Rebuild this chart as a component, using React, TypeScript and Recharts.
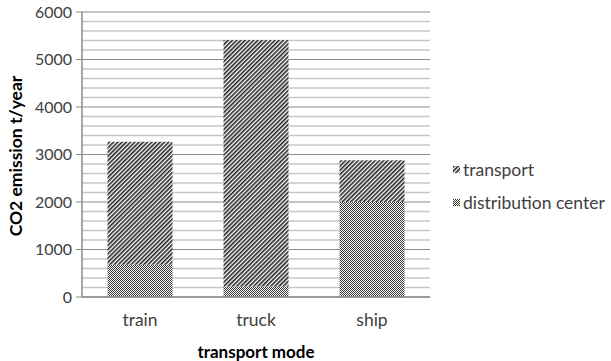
import React from 'react';
import { BarChart, Bar, XAxis, YAxis, CartesianGrid } from 'recharts';

const modes = ['train', 'truck', 'ship'];
const distributionCenter = [680, 220, 2000];
const transport = [2590, 5190, 880];
const yTicks = [0, 1000, 2000, 3000, 4000, 5000, 6000];
const minorTicks = [200, 400, 600, 800, 1200, 1400, 1600, 1800, 2200, 2400, 2600, 2800, 3200, 3400, 3600, 3800, 4200, 4400, 4600, 4800, 5200, 5400, 5600, 5800];

const data = modes.map((m, i) => ({
  mode: m,
  dc: distributionCenter[i],
  transport: transport[i],
}));

const FONT = 'Lato, "Open Sans", sans-serif';
const TEXT = '#404040';

const legendItems = [
  { label: 'transport', fill: 'url(#hatch)' },
  { label: 'distribution center', fill: 'url(#checker)' },
];

function LegendBox() {
  return (
    <div style={{ position: 'absolute', left: 453, top: 153, fontFamily: FONT, fontSize: 17.5, color: TEXT }}>
      {legendItems.map((it) => (
        <div key={it.label} style={{ display: 'flex', alignItems: 'center', height: 33 }}>
          <svg width={7} height={7} style={{ marginRight: 3 }}>
            <rect x={0} y={0} width={7} height={7} fill={it.fill} />
          </svg>
          <span>{it.label}</span>
        </div>
      ))}
    </div>
  );
}

// rotated y axis title, placed by hand in the left gutter
function YTitle() {
  return (
    <text
      x={15}
      y={156}
      transform="rotate(-90 15 156)"
      textAnchor="middle"
      dominantBaseline="central"
      fontSize={17.5}
      fontWeight="bold"
      fill="#000"
      fontFamily={FONT}
    >
      CO2 emission t/year
    </text>
  );
}

export default function App() {
  return (
    <div style={{ position: 'absolute', left: 0, top: 0, width: 611, height: 361, background: '#fff' }}>
      <BarChart
        width={611}
        height={361}
        data={data}
        barCategoryGap="22%"
        margin={{ top: 12, right: 181, left: 0, bottom: 0 }}
      >
        <defs>
          <pattern id="hatch" patternUnits="userSpaceOnUse" width={3} height={3} patternTransform="rotate(45)">
            <rect x={0} y={0} width={3} height={3} fill="#fff" />
            <rect x={0} y={0} width={1.6} height={3} fill="#222" />
          </pattern>
          <pattern id="checker" patternUnits="userSpaceOnUse" width={2} height={2}>
            <rect x={0} y={0} width={2} height={2} fill="#fff" />
            <rect x={0} y={0} width={1} height={1} fill="#333" />
            <rect x={1} y={1} width={1} height={1} fill="#333" />
          </pattern>
        </defs>
        <CartesianGrid vertical={false} horizontalValues={minorTicks} stroke="#c6c6c6" strokeWidth={1.5} />
        <CartesianGrid vertical={false} horizontalValues={yTicks} stroke="#8c8c8c" strokeWidth={1.2} />
        <XAxis
          dataKey="mode"
          height={64}
          tickLine={false}
          axisLine={{ stroke: '#8c8c8c', strokeWidth: 1.5 }}
          tick={{ fontSize: 17.5, fill: TEXT, fontFamily: FONT }}
          tickMargin={11}
          label={{ value: 'transport mode', position: 'insideBottom', offset: 3, fontSize: 17, fontWeight: 'bold', fill: '#000', fontFamily: FONT }}
        />
        <YAxis
          width={82}
          domain={[0, 6000]}
          ticks={yTicks}
          interval={0}
          tickSize={6}
          tickLine={{ stroke: '#8c8c8c' }}
          axisLine={{ stroke: '#8c8c8c', strokeWidth: 1.5 }}
          tick={{ fontSize: 16, fill: TEXT, fontFamily: FONT }}
          tickMargin={4}
          label={{ content: () => <YTitle /> }}
        />
        <Bar dataKey="dc" stackId="a" fill="url(#checker)" isAnimationActive={false} />
        <Bar dataKey="transport" stackId="a" fill="url(#hatch)" isAnimationActive={false} />
      </BarChart>
      <LegendBox />
    </div>
  );
}
